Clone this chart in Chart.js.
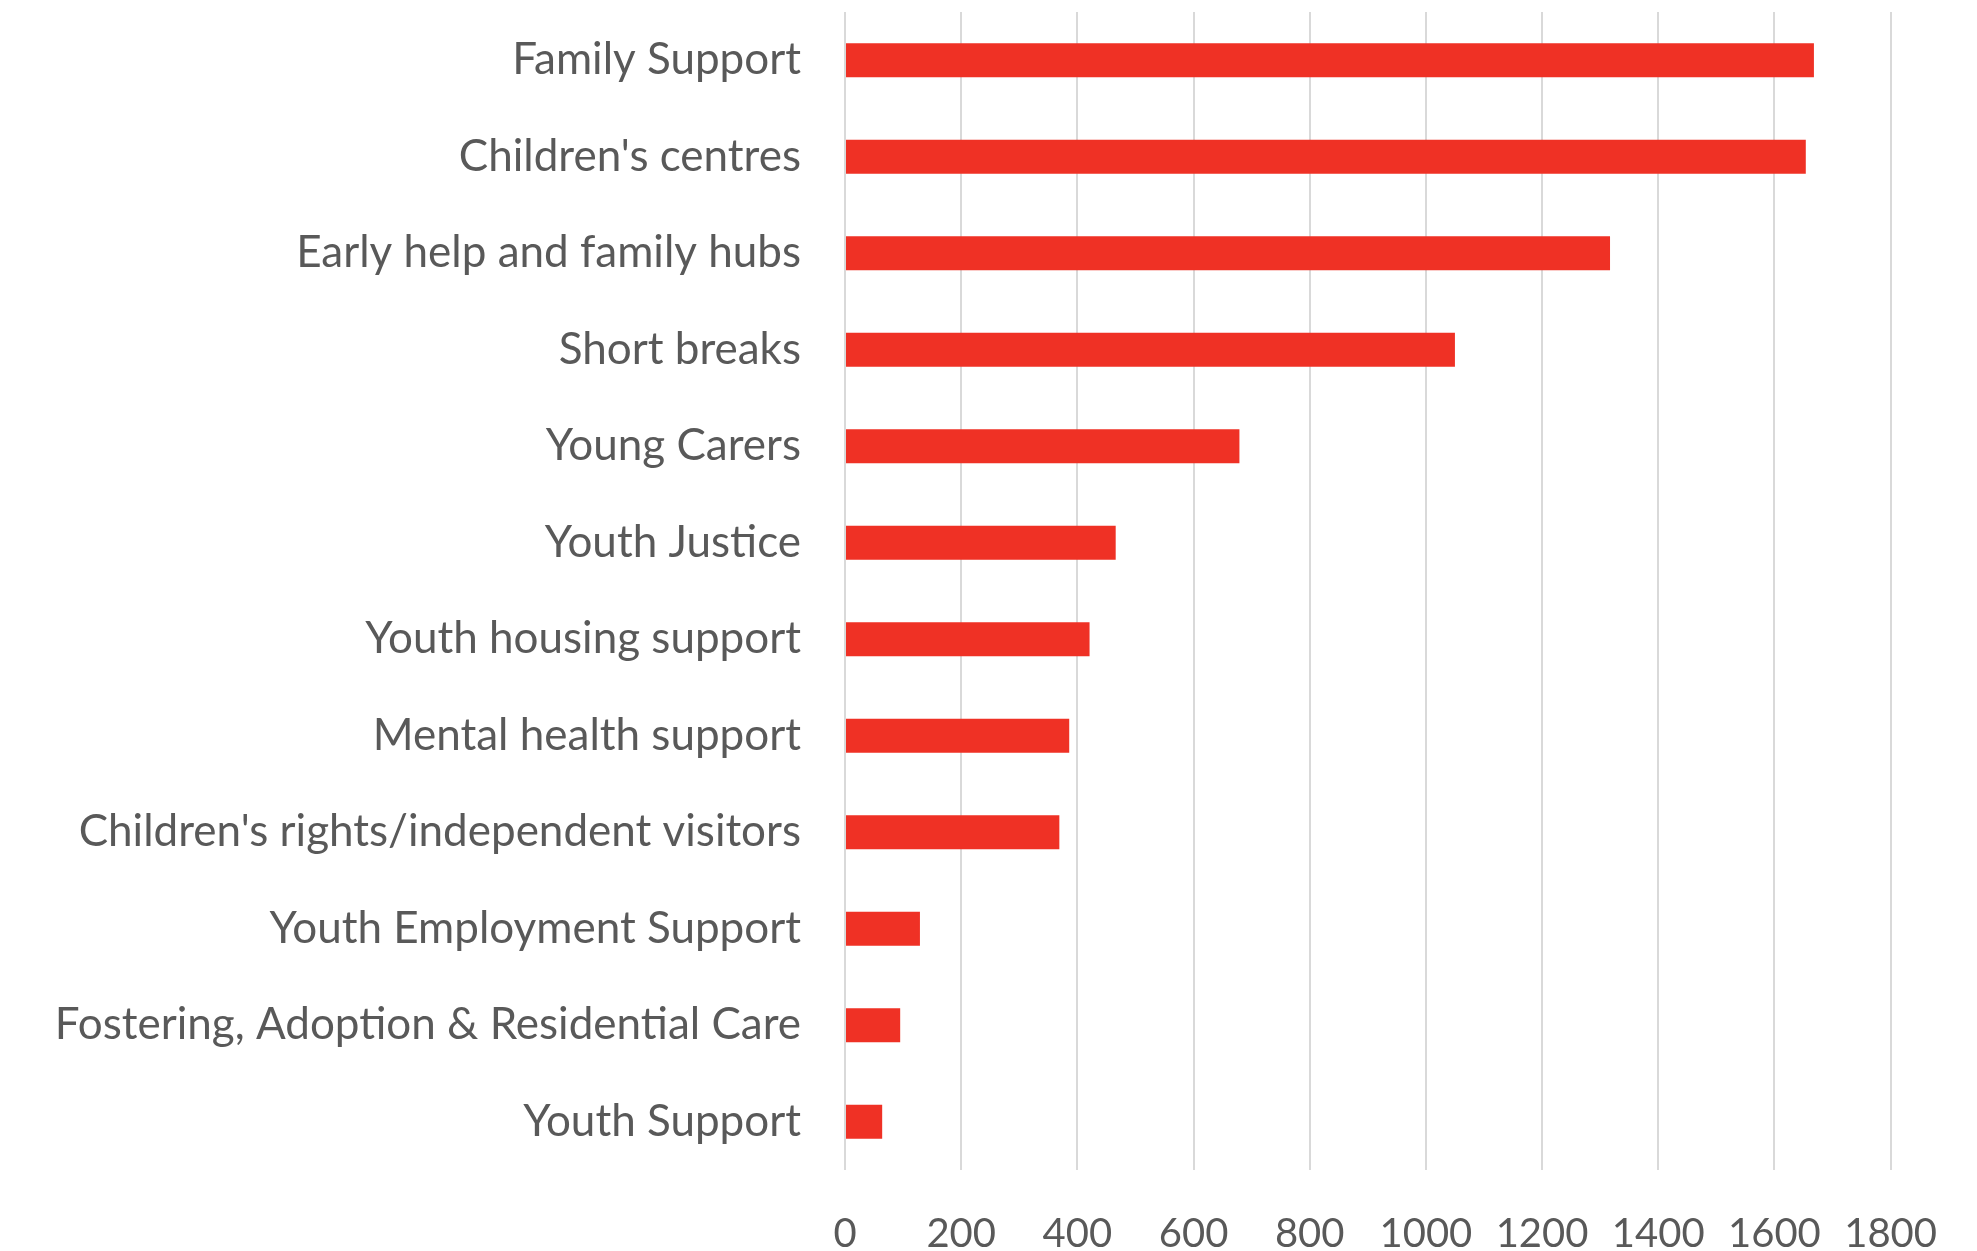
<!DOCTYPE html>
<html>
<head>
<meta charset="utf-8">
<script src="https://cdn.jsdelivr.net/npm/chart.js@4"></script>
<style>
  html, body { margin: 0; padding: 0; background: #fff; }
  #wrap { width: 1977px; height: 1251px; position: relative; }
</style>
</head>
<body>
<div id="wrap"><canvas id="services"></canvas></div>
<script>
// categories, top to bottom
const services = [
  'Family Support',
  "Children's centres",
  'Early help and family hubs',
  'Short breaks',
  'Young Carers',
  'Youth Justice',
  'Youth housing support',
  'Mental health support',
  "Children's rights/independent visitors",
  'Youth Employment Support',
  'Fostering, Adoption & Residential Care',
  'Youth Support'
];
const counts = [1668, 1654, 1317, 1050, 679, 466, 421, 386, 369, 129, 95, 64];
const xMin = 0;
const xMax = 1800;
const xStep = 200;

const textColor = '#595959';
const gridColor = '#D9D9D9';
const fontFamily = 'Lato, "Open Sans", sans-serif';

//horizontal bar chart
let servicesChart = new Chart(document.getElementById('services'), {
  type: 'bar',
  data: {
    labels: services,
    datasets: [{
      label: 'Services',
      data: counts,
      backgroundColor: '#EF3125',
      borderWidth: 0,
      categoryPercentage: 1,
      barPercentage: 0.352
    }]
  },
  options: {
    indexAxis: 'y',
    responsive: true,
    maintainAspectRatio: false,
    animation: false,
    layout: {
      padding: { top: 12, right: 84, bottom: 0, left: 0 }
    },
    plugins: {
      legend: { display: false },
      tooltip: { enabled: false }
    },
    scales: {
      x: {
        min: xMin,
        max: xMax,
        ticks: {
          stepSize: xStep,
          color: textColor,
          padding: 40,
          font: { family: fontFamily, size: 40 },
          callback: (value) => String(value)
        },
        grid: {
          color: gridColor,
          lineWidth: 2,
          drawTicks: false
        },
        border: { display: false },
        afterFit: (scale) => { scale.height = 81; }
      },
      y: {
        ticks: {
          color: textColor,
          padding: 44,
          font: { family: fontFamily, size: 44 }
        },
        grid: { display: false, drawTicks: false },
        border: { display: false },
        afterFit: (scale) => {
          scale.width = 845;
          // labels sit beside bars, no extra room needed above/below
          scale.paddingTop = 0;
          scale.paddingBottom = 0;
        }
      }
    }
  }
});
</script>
</body>
</html>
